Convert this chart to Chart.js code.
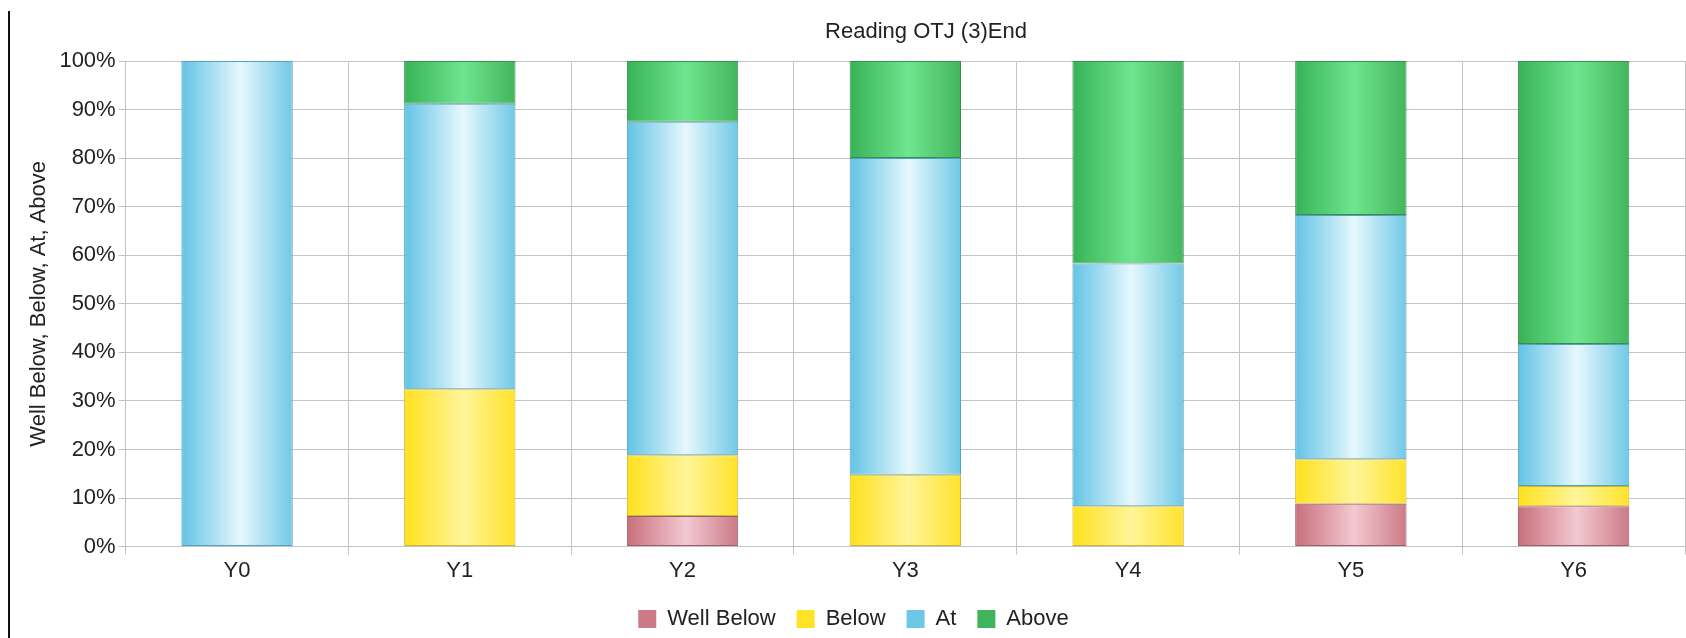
<!DOCTYPE html>
<html>
<head>
<meta charset="utf-8">
<script src="https://cdn.jsdelivr.net/npm/chart.js@4.4.0/dist/chart.umd.min.js"></script>
<style>
  html, body { margin: 0; padding: 0; background: #ffffff; }
  #wrap { position: relative; width: 1686px; height: 638px; overflow: hidden; }
  #wrap canvas { position: absolute; left: 0; top: 0; }
  #rule { position: absolute; left: 8px; top: 11px; bottom: 0; width: 2px; background: #111; }
</style>
</head>
<body>
<div id="wrap">
  <canvas id="chart" width="1686" height="638"></canvas>
  <div id="rule"></div>
</div>
<script>
// Year groups along the x axis
const years = ['Y0', 'Y1', 'Y2', 'Y3', 'Y4', 'Y5', 'Y6'];

// Share of pupils in each band, percent per year group
const wellBelow = [0, 0, 6.3, 0, 0, 8.8, 8.3];
const below     = [0, 32.4, 12.5, 14.8, 8.3, 9.2, 4.2];
const at        = [100, 58.8, 68.7, 65.2, 50.0, 50.3, 29.2];
const above     = [0, 8.8, 12.5, 20.0, 41.7, 31.7, 58.3];

const chartTitle = 'Reading OTJ (3)End';
const axisTitle = 'Well Below, Below, At, Above';

// Shading per band: [edge, highlight, edge], plus outline and legend swatch
const bandStyles = {
  'Well Below': { stops: ['#c86f7c', '#f3c9d1', '#cb7a86'], border: '#a25a66', swatch: '#cc7a86' },
  'Below':      { stops: ['#ffe11c', '#fff59a', '#ffe32a'], border: '#cdb536', swatch: '#ffe425' },
  'At':         { stops: ['#62c3e5', '#e6f8fd', '#70c9e6'], border: '#55a3bb', swatch: '#6cc8e6' },
  'Above':      { stops: ['#38b257', '#6fe58f', '#42b65d'], border: '#358f4e', swatch: '#3fb45c' }
};

const FONT = '"Liberation Sans", Arial, Helvetica, sans-serif';
const TEXT = '#222222';
const GRID = '#c4c4c4';

// Horizontal cylinder-like shading across each bar
function barFill(name) {
  const st = bandStyles[name];
  return function (ctx) {
    if (ctx.type !== 'data' || ctx.dataIndex === undefined) return st.swatch;
    const chart = ctx.chart;
    const xs = chart.scales.x;
    if (!xs || !chart.chartArea) return st.swatch;
    const cx = xs.getPixelForValue(ctx.dataIndex);
    const slot = xs.width / years.length;
    const half = slot * 0.5 * 0.5;
    const g = chart.ctx.createLinearGradient(cx - half, 0, cx + half, 0);
    g.addColorStop(0, st.stops[0]);
    g.addColorStop(0.53, st.stops[1]);
    g.addColorStop(1, st.stops[2]);
    return g;
  };
}

function band(name, values) {
  return {
    label: name,
    data: values.map(v => (v === 0 ? null : v)),
    backgroundColor: barFill(name),
    borderColor: bandStyles[name].border,
    borderWidth: 1,
    borderSkipped: false,
    barPercentage: 0.5,
    categoryPercentage: 1.0
  };
}

// Title drawn centred above the plot
const headingPlugin = {
  id: 'heading',
  afterDraw(chart, args, opts) {
    const c = chart.ctx;
    c.save();
    c.font = opts.font;
    c.fillStyle = opts.color;
    c.textAlign = 'center';
    c.textBaseline = 'middle';
    c.fillText(opts.text, opts.x, opts.y);
    c.restore();
  }
};

new Chart(document.getElementById('chart'), {
  type: 'bar',
  data: {
    labels: years,
    datasets: [
      band('Well Below', wellBelow),
      band('Below', below),
      band('At', at),
      band('Above', above)
    ]
  },
  plugins: [headingPlugin],
  options: {
    responsive: false,
    animation: false,
    events: [],
    layout: { padding: { top: 61, left: 22, right: 1, bottom: -2 } },
    scales: {
      x: {
        stacked: true,
        offset: true,
        grid: { color: GRID, lineWidth: 1, offset: true, tickLength: 8, drawTicks: true },
        border: { color: GRID },
        ticks: { color: TEXT, font: { family: FONT, size: 22 }, padding: 3 }
      },
      y: {
        stacked: true,
        min: 0,
        max: 100,
        grid: { color: GRID, lineWidth: 1, tickLength: 7 },
        border: { color: GRID },
        ticks: {
          stepSize: 10,
          color: TEXT,
          font: { family: FONT, size: 22 },
          padding: 3,
          callback: v => v + '%'
        },
        title: {
          display: true,
          text: axisTitle,
          color: TEXT,
          font: { family: FONT, size: 22 },
          padding: { top: 4, bottom: 4 }
        }
      }
    },
    plugins: {
      title: { display: false },
      tooltip: { enabled: false },
      legend: {
        position: 'bottom',
        labels: {
          color: TEXT,
          font: { family: FONT, size: 22 },
          boxWidth: 18,
          boxHeight: 18,
          padding: 21,
          generateLabels(chart) {
            return chart.data.datasets.map((ds, i) => ({
              text: ds.label,
              fillStyle: bandStyles[ds.label].swatch,
              strokeStyle: bandStyles[ds.label].swatch,
              lineWidth: 0,
              hidden: !chart.isDatasetVisible(i),
              datasetIndex: i,
              fontColor: TEXT
            }));
          }
        }
      },
      heading: {
        text: chartTitle,
        font: '22px ' + FONT,
        color: TEXT,
        x: 926,
        y: 32
      }
    }
  }
});
</script>
</body>
</html>
